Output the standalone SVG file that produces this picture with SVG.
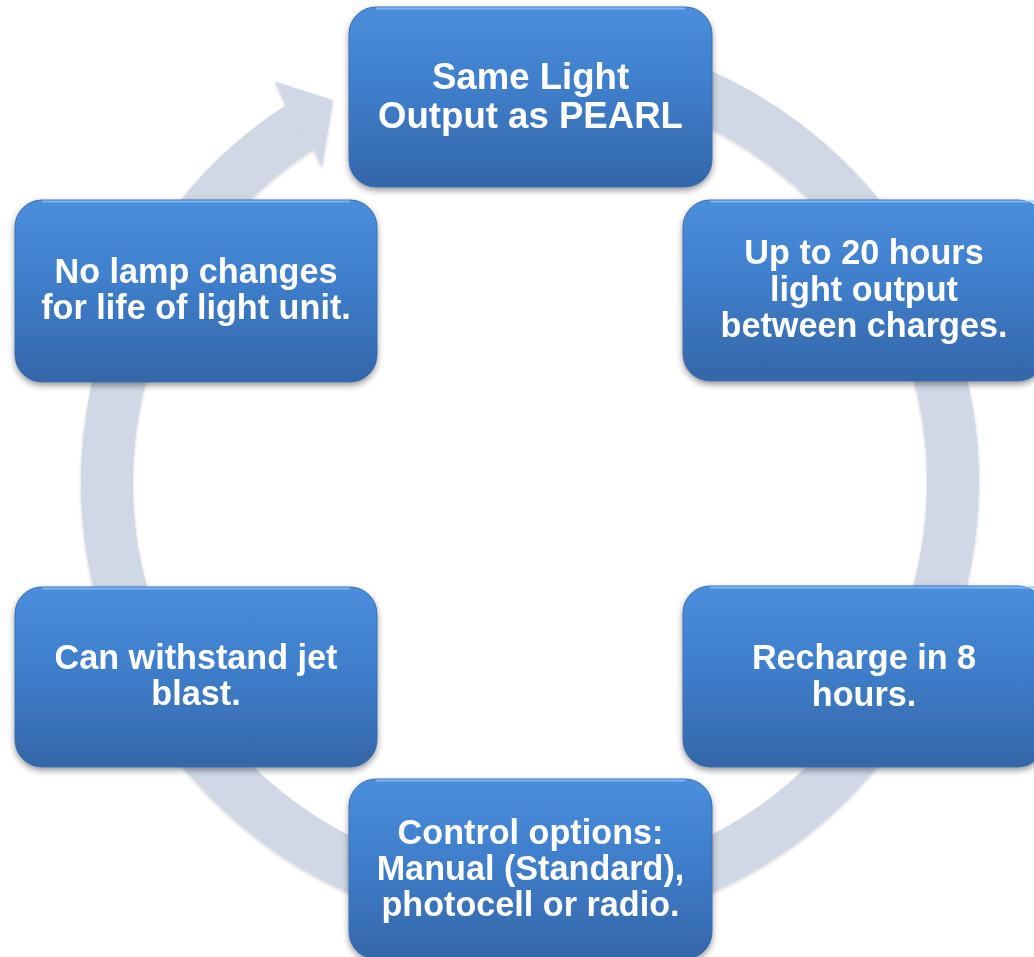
<svg xmlns="http://www.w3.org/2000/svg" width="1034" height="957" viewBox="0 0 1034 957">
<style>
.box{fill:url(#boxGrad);stroke:#3A6DB0;stroke-width:1}
.hl{fill:none;stroke:#8CC0F5;stroke-width:2;opacity:0.8}
.t{font-family:"Liberation Sans",Arial,sans-serif;font-weight:bold;fill:#FFFFFF;text-anchor:middle;font-size:34.2px}
.t1{font-size:36.6px}
.ring{fill:none;stroke:#D0D7E5;stroke-width:52}
.head{fill:#D0D7E5}
</style>
<defs>
<linearGradient id="boxGrad" x1="0" y1="0" x2="0" y2="1">
<stop offset="0" stop-color="#4A8EDC"/>
<stop offset="0.45" stop-color="#3F7ECB"/>
<stop offset="1" stop-color="#3566A8"/>
</linearGradient>
<filter id="sh" x="-10%" y="-10%" width="120%" height="125%">
<feDropShadow dx="0" dy="3" stdDeviation="3" flood-color="#000" flood-opacity="0.4"/>
</filter>
<filter id="rsh" x="-10%" y="-10%" width="120%" height="120%">
<feDropShadow dx="0" dy="1.5" stdDeviation="1.5" flood-color="#000" flood-opacity="0.18"/>
</filter>
</defs>
<rect width="1034" height="957" fill="#FFFFFF"/>
<g id="connectors" filter="url(#rsh)">
<path class="ring" d="M674.7,84.5 A423,423 0 1 1 299.6,127.2"/>
<polygon class="head" points="287,107.8 274.8,81.4 333,100 321.9,167.6 312.3,146.6"/>
</g>
<g id="node1" filter="url(#sh)">
<rect class="box" x="349" y="7" width="363" height="180" rx="27"/>
<path class="hl" d="M376,8.5 H685"/>
<text class="t t1" x="530.5" y="89">Same Light</text>
<text class="t t1" x="530.5" y="128">Output as PEARL</text>
</g>
<g id="node2" filter="url(#sh)">
<rect class="box" x="683" y="200" width="362" height="181" rx="27"/>
<path class="hl" d="M710,201.5 H1034"/>
<text class="t" x="864" y="264">Up to 20 hours</text>
<text class="t" x="864" y="300.5">light output</text>
<text class="t" x="864" y="337">between charges.</text>
</g>
<g id="node3" filter="url(#sh)">
<rect class="box" x="683" y="586" width="362" height="181" rx="27"/>
<path class="hl" d="M710,587.5 H1034"/>
<text class="t" x="864" y="669">Recharge in 8</text>
<text class="t" x="864" y="705.5">hours.</text>
</g>
<g id="node4" filter="url(#sh)">
<rect class="box" x="349" y="779" width="363" height="180" rx="27"/>
<path class="hl" d="M376,780.5 H685"/>
<text class="t" x="530.5" y="843.5">Control options:</text>
<text class="t" x="530.5" y="880">Manual (Standard),</text>
<text class="t" x="530.5" y="916">photocell or radio.</text>
</g>
<g id="node5" filter="url(#sh)">
<rect class="box" x="15" y="587" width="362" height="180" rx="27"/>
<path class="hl" d="M42,588.5 H350"/>
<text class="t" x="196" y="668.5">Can withstand jet</text>
<text class="t" x="196" y="705">blast.</text>
</g>
<g id="node6" filter="url(#sh)">
<rect class="box" x="15" y="200" width="362" height="182" rx="27"/>
<path class="hl" d="M42,201.5 H350"/>
<text class="t" x="196" y="282.5">No lamp changes</text>
<text class="t" x="196" y="319">for life of light unit.</text>
</g>
</svg>
